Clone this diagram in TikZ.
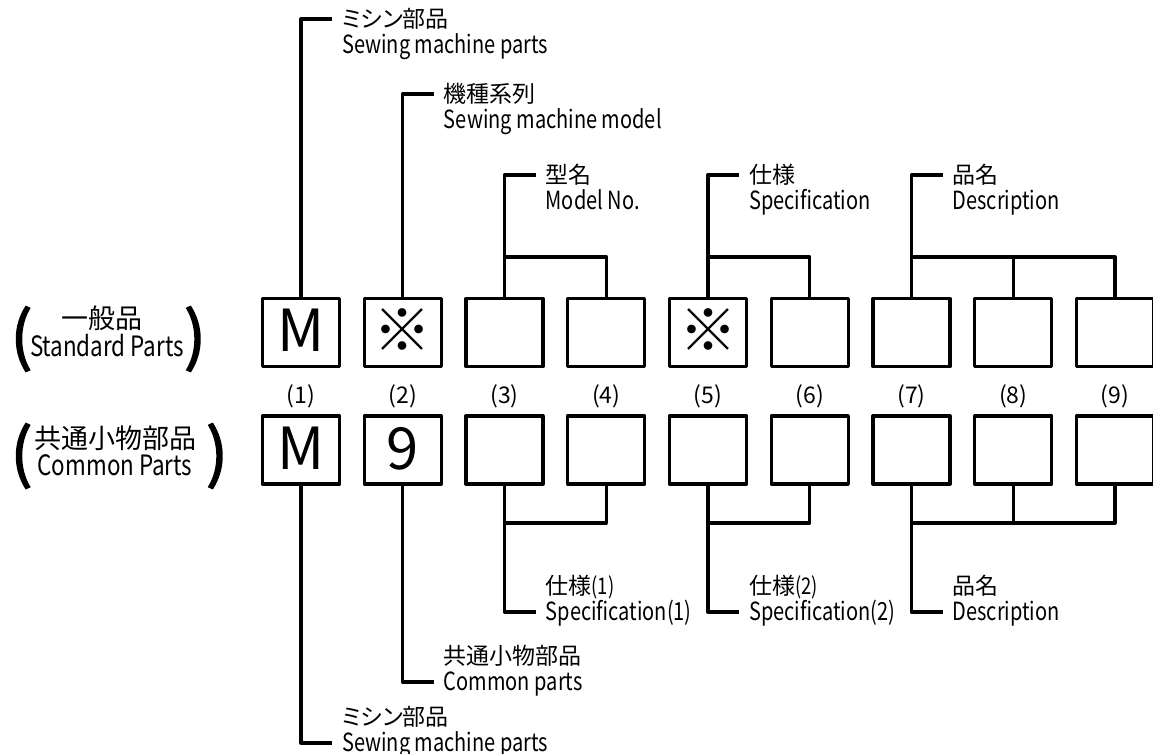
\documentclass[tikz,border=0pt]{standalone}
\usepackage{fontspec}
\setmainfont{Noto Sans CJK JP}[RawFeature=+palt]
\newfontfamily\enfont{Noto Sans CJK JP}[FakeStretch=0.8]
\newfontfamily\parenfont{Noto Sans CJK JP}[FakeBold=2.5]
\usepackage{tikz}
\usetikzlibrary{positioning,calc}
\definecolor{ink}{HTML}{000000}
\tikzset{
  cell/.style={draw=ink,line width=3.3pt,line join=round,minimum width=77pt,minimum height=68pt,inner sep=0pt,text height=38pt,text depth=0pt,font=\fontsize{58}{58}\selectfont,text=ink},
  wire/.style={draw=ink,line width=3.3pt,line join=round},
  jplbl/.style={anchor=west,inner xsep=10pt,inner ysep=0pt,text height=16.5pt,text depth=0pt,font=\fontsize{23}{23}\selectfont,text=ink},
  enlbl/.style={jplbl,font=\enfont\fontsize{25}{25}\selectfont},
  num/.style={inner sep=0pt,font=\fontsize{23}{23}\selectfont,text=ink},
  sidejp/.style={inner sep=0pt,text height=19pt,text depth=0pt,font=\fontsize{27}{27}\selectfont,text=ink},
  sideen/.style={sidejp,font=\enfont\fontsize{28}{28}\selectfont},
  bigparen/.style={inner sep=0pt,font=\parenfont\fontsize{64}{64}\selectfont,text=ink},
}

\begin{document}
\begin{tikzpicture}[x=1pt,y=-1pt]
    \useasboundingbox (0,0) rectangle (1153,754);
    % code boxes, both rows
    \foreach \i/\a/\b in {1/M/M,2/※/9,3//,4//,5/※/,6//,7//,8//,9//} {
      \node[cell] (s\i) at ({301+(\i-1)*101.75},332.5) {\a};
      \node[num] (n\i) at ({301+(\i-1)*101.75},396) {(\i)};
      \node[cell] (c\i) at ({301+(\i-1)*101.75},450) {\b};
    }
    % row titles
    \node[bigparen] (lp1) at (21.5,339) {(};
    \node[sidejp] (stdjp) at (102,319) {一般品};
    \node[sideen] (stden) at (107,347) {Standard Parts};
    \node[bigparen] (rp1) at (195,339) {)};
    \node[bigparen] (lp2) at (21.5,456) {(};
    \node[sidejp] (comjp) at (115,439) {共通小物部品};
    \node[sideen] (comen) at (115,466) {Common Parts};
    \node[bigparen] (rp2) at (217,456) {)};
    % brackets joining digits
    \coordinate (tb) at (0,257);
    \coordinate (bb) at (0,523);
    \draw[wire] (s4.north) -- (s4.north |- tb) -- (s3.north |- tb);
    \draw[wire] (s6.north) -- (s6.north |- tb) -- (s5.north |- tb);
    \draw[wire] (s9.north) -- (s9.north |- tb) -- (s7.north |- tb);
    \draw[wire] (s8.north) -- (s8.north |- tb);
    \draw[wire] (c4.south) -- (c4.south |- bb) -- (c3.south |- bb);
    \draw[wire] (c6.south) -- (c6.south |- bb) -- (c5.south |- bb);
    \draw[wire] (c9.south) -- (c9.south |- bb) -- (c7.south |- bb);
    \draw[wire] (c8.south) -- (c8.south |- bb);
    % labels above
    \foreach \i/\y/\jp/\en in {1/19/ミシン部品/Sewing machine parts,
      2/94/機種系列/Sewing machine model,
      3/175/型名/Model No.,
      5/175/仕様/Specification,
      7/175/品名/Description} {
      \node[jplbl] (tj\i) at ([xshift=31pt]s\i.north |- 0,\y) {\jp};
      \node[enlbl] (te\i) at ([yshift=-26pt]tj\i.west) {\en};
      \draw[wire] (s\i.north) |- (tj\i.west);
    }
    % labels below
    \foreach \i/\y/\jp/\en in {1/743/ミシン部品/Sewing machine parts,
      2/682/共通小物部品/Common parts,
      3/612/仕様{\enfont(1)}/Specification(1),
      5/612/仕様{\enfont(2)}/Specification(2),
      7/612/品名/Description} {
      \node[enlbl] (be\i) at ([xshift=31pt]c\i.south |- 0,\y) {\en};
      \node[jplbl] (bj\i) at ([yshift=26pt]be\i.west) {\jp};
      \draw[wire] (c\i.south) |- (be\i.west);
    }
\end{tikzpicture}
\end{document}
